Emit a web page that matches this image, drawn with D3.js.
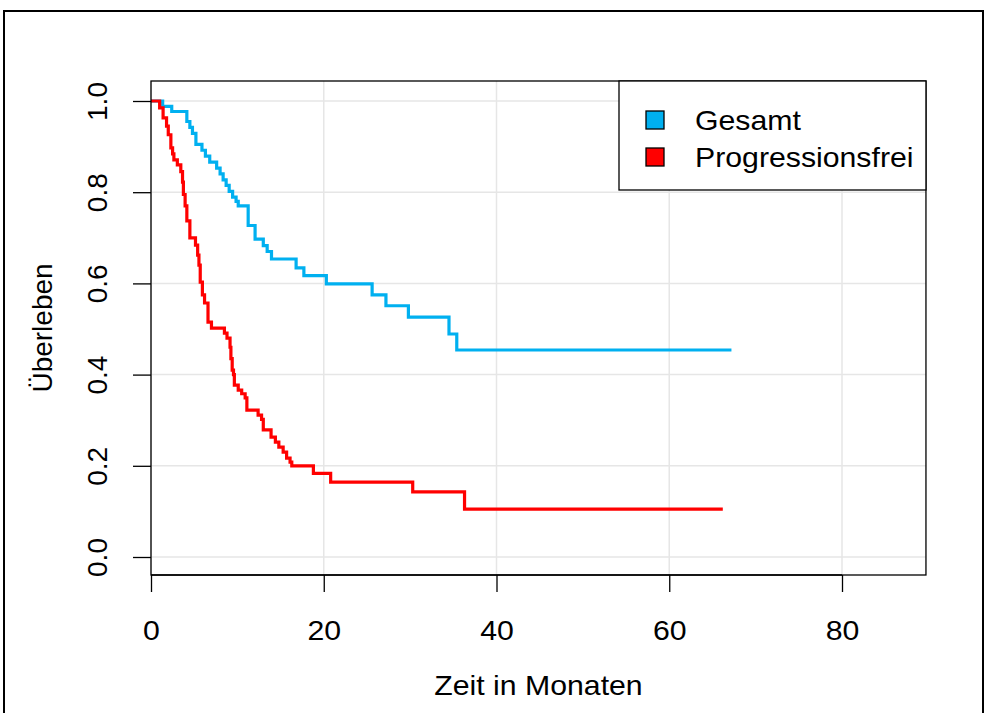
<!DOCTYPE html>
<html>
<head>
<meta charset="utf-8">
<script src="https://cdn.jsdelivr.net/npm/d3@7"></script>
<style>
  html, body { margin: 0; padding: 0; background: #fff; }
  svg { display: block; }
  text { font-family: "Liberation Sans", Arial, sans-serif; fill: #000; }
</style>
</head>
<body>
<svg id="chart" width="987" height="713"></svg>
<script>
// ---- data ----
const seriesNames = ["Gesamt", "Progressionsfrei"];
const seriesColors = ["#00B0F0", "#FF0000"];

const gesamtTime = [0, 1.35, 2.4, 4.15, 4.5, 4.8, 5.2, 5.9, 6.3, 6.8, 7.6, 8.0, 8.35, 8.7, 9.05, 9.45, 9.85, 10.1, 11.25, 12.05, 13.0, 13.45, 13.95, 16.8, 17.7, 20.3, 25.6, 27.2, 29.8, 34.5, 35.4];
const gesamtSurv = [1.0, 0.988, 0.977, 0.955, 0.942, 0.929, 0.905, 0.892, 0.879, 0.866, 0.853, 0.84, 0.827, 0.815, 0.802, 0.789, 0.78, 0.77, 0.727, 0.697, 0.683, 0.67, 0.6535, 0.634, 0.617, 0.599, 0.575, 0.551, 0.526, 0.489, 0.454];
const gesamtEnd = 67.2;

const progTime = [0, 1.0, 1.4, 1.8, 2.0, 2.3, 2.5, 2.65, 3.05, 3.45, 3.65, 3.75, 3.95, 4.15, 4.5, 5.15, 5.4, 5.55, 5.7, 5.95, 6.2, 6.6, 7.0, 8.5, 8.8, 9.15, 9.25, 9.4, 9.55, 9.65, 10.1, 10.5, 10.9, 11.1, 12.4, 12.8, 13.0, 13.9, 14.4, 14.8, 15.3, 15.7, 16.1, 16.3, 18.8, 20.8, 30.3, 36.3];
const progSurv = [1.0, 0.985, 0.963, 0.945, 0.926, 0.897, 0.884, 0.871, 0.86, 0.845, 0.822, 0.795, 0.77, 0.737, 0.70, 0.684, 0.662, 0.64, 0.603, 0.575, 0.557, 0.515, 0.502, 0.491, 0.48, 0.46, 0.435, 0.41, 0.40, 0.377, 0.366, 0.358, 0.349, 0.322, 0.311, 0.302, 0.279, 0.263, 0.252, 0.241, 0.23, 0.217, 0.208, 0.2, 0.1835, 0.164, 0.143, 0.105];
const progEnd = 66.2;

const xTicks = [0, 20, 40, 60, 80];
const yTicks = [0.0, 0.2, 0.4, 0.6, 0.8, 1.0];
const xTitle = "Zeit in Monaten";
const yTitle = "Überleben";

// ---- layout ----
const FS = 28;
const WIDEN = 1.08; // horizontal text is slightly wider in the reference
const svg = d3.select("#chart");
const x = d3.scaleLinear().domain([0, 80]).range([151, 842]);
const y = d3.scaleLinear().domain([0, 1]).range([557, 101]);
const xMax = 89.72;
const pLeft = x(0), pRight = x(xMax), pTop = 81, pBottom = 575;

function widen(sel) {
  sel.each(function () {
    const w = this.getComputedTextLength();
    d3.select(this).attr("textLength", w * WIDEN).attr("lengthAdjust", "spacingAndGlyphs");
  });
}

// outer frame
svg.append("rect").attr("x", 4).attr("y", 11).attr("width", 979).attr("height", 712)
  .attr("fill", "none").attr("stroke", "#000").attr("stroke-width", 2);

// grid
const grid = svg.append("g");
xTicks.forEach(t => grid.append("line").attr("x1", x(t)).attr("x2", x(t)).attr("y1", pTop).attr("y2", pBottom)
  .attr("stroke", "#E6E6E6").attr("stroke-width", 1.5));
yTicks.forEach(t => grid.append("line").attr("x1", pLeft).attr("x2", pRight).attr("y1", y(t)).attr("y2", y(t))
  .attr("stroke", "#E6E6E6").attr("stroke-width", 1.5));

// curves
const line = d3.line().x(d => x(d[0])).y(d => y(d[1])).curve(d3.curveStepAfter);
function pts(ts, ss, end) {
  const p = ts.map((t, i) => [t, ss[i]]);
  p.push([end, ss[ss.length - 1]]);
  return p;
}
const curves = [pts(gesamtTime, gesamtSurv, gesamtEnd), pts(progTime, progSurv, progEnd)];
curves.forEach((c, i) => {
  svg.append("path").attr("d", line(c)).attr("fill", "none")
    .attr("stroke", seriesColors[i]).attr("stroke-width", 3.2);
});

// plot box
svg.append("rect").attr("x", pLeft).attr("y", pTop).attr("width", pRight - pLeft).attr("height", pBottom - pTop)
  .attr("fill", "none").attr("stroke", "#000").attr("stroke-width", 1.3);

// x axis
const xAxis = d3.axisBottom(x).tickValues(xTicks).tickSize(17).tickPadding(28).tickFormat(d3.format("d"));
const gx = svg.append("g").attr("transform", `translate(0,${pBottom})`).call(xAxis);
gx.select(".domain").remove();
gx.selectAll("line").attr("stroke", "#000").attr("stroke-width", 1.3);
gx.selectAll("text").attr("font-size", FS).attr("font-family", "Liberation Sans, Arial, sans-serif").call(widen);
gx.append("line").attr("x1", x(0)).attr("x2", x(80)).attr("stroke", "#000").attr("stroke-width", 1.3);

// y axis
const yAxis = d3.axisLeft(y).tickValues(yTicks).tickSize(18).tickPadding(0).tickFormat(d3.format(".1f"));
const gy = svg.append("g").attr("transform", `translate(${pLeft},0)`).call(yAxis);
gy.select(".domain").remove();
gy.selectAll("line").attr("stroke", "#000").attr("stroke-width", 1.3);
gy.selectAll("text").attr("font-size", FS).attr("font-family", "Liberation Sans, Arial, sans-serif")
  .attr("x", null).attr("dy", null)
  .attr("text-anchor", "middle")
  .attr("transform", "translate(-54,0) rotate(-90)")
  .attr("dy", "0.35em");

// axis titles
svg.append("text").attr("x", (pLeft + pRight) / 2).attr("y", 695).attr("text-anchor", "middle")
  .attr("font-size", FS).text(xTitle).call(widen);
svg.append("text").attr("transform", `translate(52,${(pTop + pBottom) / 2}) rotate(-90)`)
  .attr("text-anchor", "middle").attr("font-size", FS).text(yTitle);

// legend
const lg = svg.append("g");
lg.append("rect").attr("x", 619).attr("y", pTop).attr("width", pRight - 619).attr("height", 109)
  .attr("fill", "#fff").attr("stroke", "#000").attr("stroke-width", 1.3);
seriesNames.forEach((n, i) => {
  const cy = 120 + i * 37;
  lg.append("rect").attr("x", 646).attr("y", cy - 9).attr("width", 18).attr("height", 18)
    .attr("fill", seriesColors[i]).attr("stroke", "#000").attr("stroke-width", 1.3);
  lg.append("text").attr("x", 695).attr("y", cy).attr("dy", "0.36em").attr("font-size", FS).text(n).call(widen);
});
</script>
</body>
</html>
